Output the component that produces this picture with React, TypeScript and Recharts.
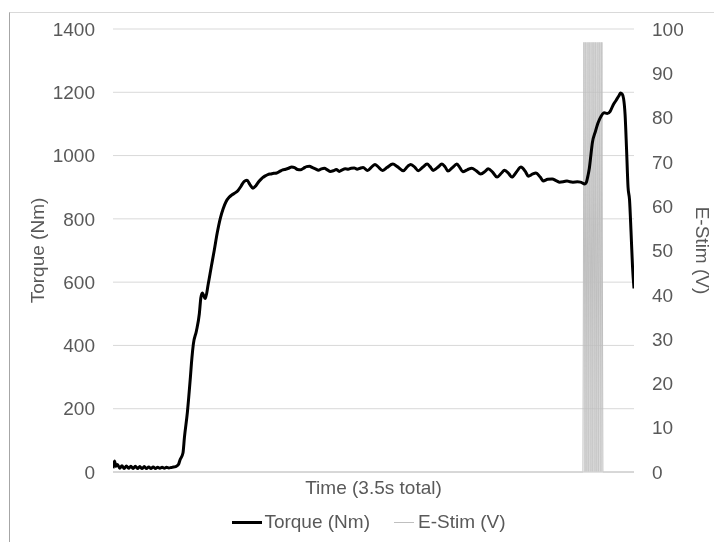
import { ComposedChart, Line, XAxis, YAxis, CartesianGrid, Legend } from "recharts"

// torque trace, seconds / Nm
const times = [
  0, 0.01, 0.02, 0.03, 0.045, 0.06, 0.075, 0.09, 0.105, 0.12, 0.135, 0.15, 0.165, 0.18, 0.195, 0.21,
  0.225, 0.24, 0.255, 0.27, 0.285, 0.3, 0.315, 0.33, 0.345, 0.36, 0.375, 0.39, 0.4, 0.42, 0.44, 0.45,
  0.47, 0.48, 0.5, 0.52, 0.53, 0.54, 0.56, 0.58, 0.59, 0.6, 0.62, 0.64, 0.66, 0.68, 0.7, 0.72, 0.74,
  0.76, 0.78, 0.8, 0.82, 0.84, 0.86, 0.88, 0.9, 0.92, 0.94, 0.96, 0.98, 1.0, 1.02, 1.04, 1.06, 1.08,
  1.1, 1.12, 1.14, 1.16, 1.18, 1.2, 1.22, 1.24, 1.26, 1.28, 1.3, 1.32, 1.34, 1.36, 1.38, 1.4, 1.42,
  1.44, 1.46, 1.48, 1.5, 1.52, 1.54, 1.56, 1.58, 1.6, 1.62, 1.64, 1.66, 1.68, 1.71, 1.74, 1.76, 1.78,
  1.81, 1.84, 1.88, 1.91, 1.95, 1.98, 2.0, 2.03, 2.05, 2.08, 2.11, 2.13, 2.15, 2.18, 2.21, 2.23, 2.25,
  2.28, 2.31, 2.33, 2.35, 2.38, 2.41, 2.44, 2.47, 2.5, 2.52, 2.55, 2.58, 2.61, 2.63, 2.66, 2.68, 2.71,
  2.74, 2.77, 2.79, 2.82, 2.84, 2.87, 2.89, 2.92, 2.95, 2.98, 3.0, 3.03, 3.05, 3.07, 3.09, 3.12, 3.14,
  3.17, 3.18, 3.19, 3.2, 3.21, 3.22, 3.24, 3.26, 3.28, 3.3, 3.32, 3.34, 3.36, 3.38, 3.4, 3.41, 3.42,
  3.43, 3.44, 3.45, 3.46, 3.47, 3.48, 3.49, 3.5,
]
const torque = [
  12, 35, 18, 24, 12, 20, 11, 19, 12, 18, 11, 18, 11, 17, 11, 17,
  11, 16, 11, 16, 11, 15, 12, 15, 12, 15, 13, 14, 15, 17, 24, 38,
  60, 110, 190, 300, 360, 405, 445, 500, 550, 566, 548, 595, 648, 700, 755, 800, 832,
  855, 868, 876, 882, 890, 903, 918, 922, 908, 897, 905, 918, 928, 935, 940, 942, 944,
  945, 950, 955, 957, 960, 964, 962, 956, 955, 960, 965, 966, 962, 958, 954, 958, 960,
  955, 950, 952, 956, 950, 955, 958, 957, 960, 961, 957, 960, 962, 953, 965, 972, 965,
  953, 962, 973, 965, 952, 966, 972, 962, 952, 963, 973, 965, 953, 962, 973, 965, 951,
  962, 973, 962, 949, 955, 960, 952, 942, 950, 958, 948, 932, 945, 954, 942, 932, 948,
  964, 950, 935, 942, 945, 932, 920, 925, 926, 920, 916, 918, 920, 917, 916, 917, 916,
  910, 915, 935, 960, 1000, 1040, 1075, 1105, 1125, 1135, 1133, 1140, 1160, 1175, 1190, 1198, 1195,
  1180, 1130, 1020, 900, 860, 760, 650, 580,
]

// e-stim pulses, seconds / volts
const stimTimes = [
  0, 3.157, 3.164, 3.171, 3.177, 3.184, 3.191, 3.197, 3.204, 3.211, 3.218, 3.224, 3.231, 3.238,
  3.244, 3.251, 3.258, 3.264, 3.271, 3.278, 3.284, 3.291, 3.5,
]
const stimVolts = [
  0, 0, 97, 0, 97, 0, 97, 0, 97, 0, 97, 0, 97, 0,
  97, 0, 97, 0, 97, 0, 97, 0, 0,
]

const torqueTicks = [0, 200, 400, 600, 800, 1000, 1200, 1400]
const stimTicks = [0, 10, 20, 30, 40, 50, 60, 70, 80, 90, 100]

const torqueData = times.map((t, i) => ({ t, torque: torque[i] }))
const stimData = stimTimes.map((t, i) => ({ t, stim: stimVolts[i] }))

const grey = "#595959"
const tickSize = 19
const titleSize = 19

function AxisTitle(props: any) {
  const { viewBox, text, px, py, rot } = props
  const x = px !== undefined ? px : viewBox.x + viewBox.width / 2
  const y = py !== undefined ? viewBox.y + py : viewBox.y + viewBox.height / 2
  return (
    <text
      x={x}
      y={y}
      fill={grey}
      fontSize={titleSize}
      textAnchor="middle"
      dominantBaseline="central"
      transform={rot ? `rotate(${rot} ${x} ${y})` : undefined}
    >
      {text}
    </text>
  )
}

function LegendBox() {
  return (
    <div
      style={{
        display: "flex",
        justifyContent: "center",
        alignItems: "center",
        height: 24,
        paddingLeft: 14,
        color: grey,
        fontSize: titleSize,
      }}
    >
      <span style={{ display: "inline-block", width: 30, height: 3, background: "#000", marginRight: 2 }} />
      <span>Torque (Nm)</span>
      <span style={{ display: "inline-block", width: 20, height: 1, background: "#bfbfbf", marginLeft: 24, marginRight: 4 }} />
      <span>E-Stim (V)</span>
    </div>
  )
}

export default function App() {
  return (
    <div
      style={{
        position: "fixed",
        left: 9,
        top: 12,
        width: 720,
        height: 540,
        borderTop: "1px solid #d9d9d9",
        borderLeft: "1px solid #a6a6a6",
        fontFamily: "'Liberation Sans', Arial, sans-serif",
      }}
    >
      <ComposedChart width={704} height={530} margin={{ top: 16, right: 0, left: 0, bottom: 9 }}>
        <CartesianGrid yAxisId="left" vertical={false} stroke="#d9d9d9" />
        <XAxis
          dataKey="t"
          type="number"
          domain={[0, 3.5]}
          allowDataOverflow
          tick={false}
          tickLine={false}
          axisLine={{ stroke: "#d9d9d9" }}
          height={38}
          label={<AxisTitle text="Time (3.5s total)" py={15} />}
        />
        <YAxis
          yAxisId="left"
          domain={[0, 1400]}
          ticks={torqueTicks}
          width={103}
          axisLine={false}
          tickLine={false}
          tickMargin={12}
          tick={{ fill: grey, fontSize: tickSize }}
          label={<AxisTitle text="Torque (Nm)" px={27} rot={-90} />}
        />
        <YAxis
          yAxisId="right"
          orientation="right"
          domain={[0, 100]}
          ticks={stimTicks}
          width={80}
          axisLine={false}
          tickLine={false}
          tickMargin={12}
          tick={{ fill: grey, fontSize: tickSize }}
          label={<AxisTitle text="E-Stim (V)" px={692} rot={90} />}
        />
        <Legend verticalAlign="bottom" content={() => <LegendBox />} />
        <Line
          yAxisId="right"
          data={stimData}
          dataKey="stim"
          name="E-Stim (V)"
          type="linear"
          stroke="#bfbfbf"
          strokeWidth={1}
          dot={false}
          isAnimationActive={false}
        />
        <Line
          yAxisId="left"
          data={torqueData}
          dataKey="torque"
          name="Torque (Nm)"
          type="monotone"
          stroke="#000000"
          strokeWidth={3}
          dot={false}
          isAnimationActive={false}
        />
      </ComposedChart>
    </div>
  )
}
